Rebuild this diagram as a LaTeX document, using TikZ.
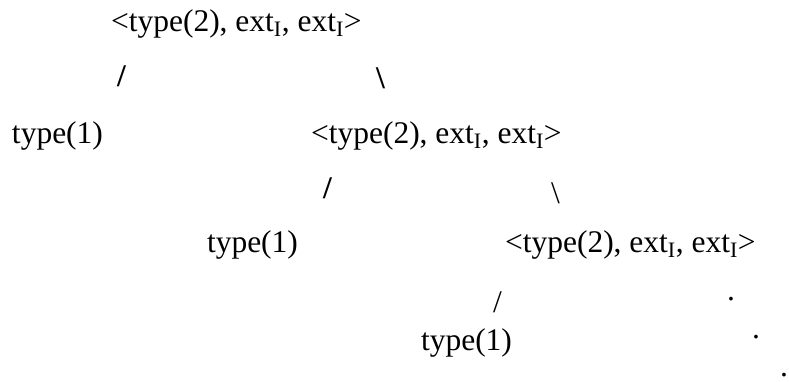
\documentclass[tikz,border=0pt]{standalone}
\usepackage{fontspec}
\setmainfont{Liberation Serif}
\newcommand\tupA{<type(2), ext\textsubscript{I}, ext\textsubscript{I}>}
\begin{document}
\begin{tikzpicture}[x=1pt,y=-1pt,
  lbl/.style={anchor=base west, inner sep=0pt, outer sep=0pt, font=\fontsize{31.5}{36}\selectfont},
  blbl/.style={lbl, font=\fontsize{31.5}{36}\selectfont\bfseries}]
\useasboundingbox (0,0) rectangle (789,381);
% row 1
\node[lbl] (n1) at (111,31) {\tupA};
% row 2
\node[blbl] (s1) at (117,86) {/};
\node[blbl] (s2) at (376,88) {\char`\\};
% row 3
\node[lbl] (n2) at (12,143) {type(1)};
\node[lbl] (n3) at (311,143) {\tupA};
% row 4
\node[blbl] (s3) at (323,198) {/};
\node[lbl] (s4) at (551,203) {\char`\\};
% row 5
\node[lbl] (n4) at (207,252) {type(1)};
\node[lbl] (n5) at (505,252) {\tupA};
% row 6
\node[lbl] (s5) at (493,312) {/};
\node[lbl] (d1) at (727,300) {.};
% row 7
\node[lbl] (n6) at (421,350) {type(1)};
\node[lbl] (d2) at (752,338) {.};
\node[lbl] (d3) at (780,376) {.};
\end{tikzpicture}
\end{document}
